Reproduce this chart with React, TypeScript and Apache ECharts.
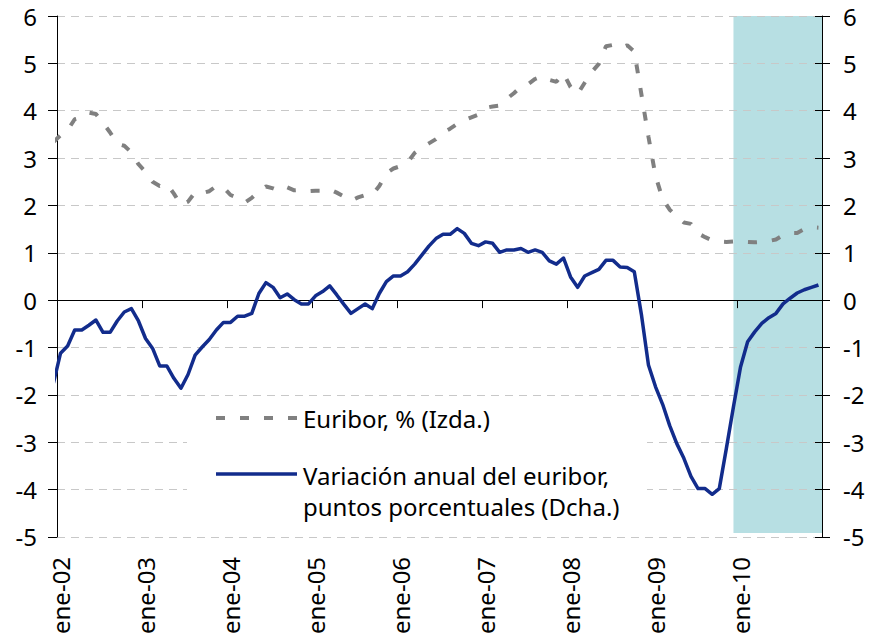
import React, { useEffect, useRef } from 'react';
import * as echarts from 'echarts';

// ---------- data ----------
const MONTHS = ['ene', 'feb', 'mar', 'abr', 'may', 'jun', 'jul', 'ago', 'sep', 'oct', 'nov', 'dic'];
const YEARS = ['02', '03', '04', '05', '06', '07', '08', '09', '10'];
// first entry (dic-01) lies just before the axis start and is clipped, as in the original
const monthLabels = ['dic-01', ...YEARS.flatMap((y) => MONTHS.map((m) => `${m}-${y}`))];
const axisCategories = monthLabels.slice(1);

// Euribor, % (Izda.)
const euribor = [
  3.34,
  3.48, 3.59, 3.82, 3.86, 3.96, 3.93, 3.74, 3.54, 3.30, 3.26, 3.12, 2.87,
  2.71, 2.50, 2.41, 2.45, 2.25, 2.01, 2.08, 2.28, 2.26, 2.30, 2.41, 2.38,
  2.22, 2.16, 2.06, 2.16, 2.30, 2.40, 2.36, 2.30, 2.38, 2.32, 2.33, 2.30,
  2.31, 2.31, 2.34, 2.27, 2.19, 2.10, 2.17, 2.22, 2.22, 2.41, 2.68, 2.78,
  2.83, 2.91, 3.11, 3.22, 3.31, 3.40, 3.54, 3.62, 3.72, 3.80, 3.86, 3.92,
  4.06, 4.09, 4.11, 4.25, 4.37, 4.51, 4.56, 4.67, 4.73, 4.65, 4.61, 4.79,
  4.50, 4.35, 4.59, 4.82, 4.99, 5.36, 5.39, 5.32, 5.38, 5.25, 4.35, 3.45,
  2.62, 2.14, 1.91, 1.77, 1.64, 1.61, 1.41, 1.33, 1.26, 1.24, 1.23, 1.24,
  1.23, 1.23, 1.22, 1.23, 1.25, 1.28, 1.37, 1.42, 1.42, 1.50, 1.54, 1.53,
];

// Variación anual del euribor, puntos porcentuales (Dcha.)
const variacion = [
  -1.75,
  -1.12, -0.97, -0.63, -0.63, -0.53, -0.42, -0.68, -0.68, -0.44, -0.25, -0.18, -0.44,
  -0.81, -1.02, -1.39, -1.39, -1.65, -1.86, -1.57, -1.16, -0.99, -0.83, -0.63, -0.47,
  -0.47, -0.34, -0.34, -0.28, 0.14, 0.37, 0.27, 0.05, 0.13, 0.01, -0.08, -0.08,
  0.09, 0.18, 0.30, 0.11, -0.09, -0.28, -0.18, -0.08, -0.18, 0.14, 0.39, 0.51,
  0.51, 0.60, 0.76, 0.95, 1.14, 1.30, 1.39, 1.39, 1.51, 1.41, 1.20, 1.15,
  1.23, 1.20, 1.01, 1.06, 1.06, 1.09, 1.01, 1.06, 1.01, 0.83, 0.76, 0.89,
  0.49, 0.27, 0.51, 0.58, 0.65, 0.84, 0.84, 0.70, 0.69, 0.60, -0.30, -1.37,
  -1.83, -2.20, -2.65, -3.03, -3.34, -3.72, -3.98, -3.98, -4.10, -3.98, -3.13, -2.25,
  -1.41, -0.88, -0.67, -0.49, -0.37, -0.28, -0.08, 0.04, 0.15, 0.22, 0.27, 0.32,
];

const SHADE_START = 'dic-09';
const SHADE_BOTTOM = -4.92;
const SHADE_TOP = 6;
const Y_MIN = -5;
const Y_MAX = 6;

const LEGEND_EURIBOR = 'Euribor, % (Izda.)';
const LEGEND_VAR_1 = 'Variación anual del euribor,';
const LEGEND_VAR_2 = 'puntos porcentuales (Dcha.)';

// ---------- styles ----------
const FONT = '"Noto Sans", "DejaVu Sans", sans-serif';
const FS = 24;
const BLUE = '#122C8C';
const GRAY = '#808080';
const SHADE = '#B7DFE3';
const GRID_COLOR = '#C8C8C8';

const toPos = (idx: number) => idx - 0.5; // month index -> position on the value axis

export default function App() {
  const ref = useRef<HTMLDivElement>(null);

  useEffect(() => {
    if (!ref.current) return;
    const chart = echarts.init(ref.current, undefined, { renderer: 'svg' });

    const euriborData = euribor.map((v, i) => [toPos(i), v]);
    const varData = variacion.map((v, i) => [toPos(i), v]);
    const shadeStart = toPos(monthLabels.indexOf(SHADE_START));

    const yBase = {
      type: 'value',
      min: Y_MIN,
      max: Y_MAX,
      interval: 1,
    };

    chart.setOption({
      animation: false,
      backgroundColor: '#ffffff',
      textStyle: { fontFamily: FONT },
      grid: { left: 57, top: 16, width: 765, height: 521 },
      xAxis: [
        {
          type: 'value',
          min: 0,
          max: 108,
          interval: 12,
          z: 4,
          axisLine: { show: true, onZero: true, onZeroAxisIndex: 0, lineStyle: { color: '#000', width: 1 } },
          axisTick: { show: true, length: 8, lineStyle: { color: '#000' } },
          axisLabel: { show: false },
          splitLine: { show: false },
        },
        {
          type: 'category',
          data: axisCategories,
          boundaryGap: true,
          position: 'bottom',
          axisLine: { show: false, onZero: false },
          axisTick: { show: false },
          splitLine: { show: false },
          axisLabel: {
            interval: 11,
            rotate: 90,
            margin: 20,
            padding: [6, 0, 0, 0],
            color: '#000',
            fontSize: FS,
            fontFamily: FONT,
          },
        },
      ],
      yAxis: [
        {
          ...yBase,
          position: 'left',
          z: 3,
          axisLine: { show: true, onZero: false, lineStyle: { color: '#000', width: 1 } },
          axisTick: { show: true, length: 9, lineStyle: { color: '#000' } },
          axisLabel: { margin: 20, color: '#000', fontSize: FS, fontFamily: FONT },
          splitLine: { show: true, lineStyle: { color: GRID_COLOR, width: 1, type: [8, 6] } },
        },
        {
          ...yBase,
          position: 'right',
          z: 4,
          axisLine: { show: true, onZero: false, lineStyle: { color: '#000', width: 1 } },
          axisTick: { show: true, length: 8, lineStyle: { color: '#000' } },
          axisLabel: { margin: 21, color: '#000', fontSize: FS, fontFamily: FONT },
          splitLine: { show: false },
        },
        {
          ...yBase,
          position: 'right',
          z: 4,
          axisLine: { show: false, onZero: false },
          axisTick: { show: true, inside: true, length: 7, lineStyle: { color: '#000' } },
          axisLabel: { show: false },
          splitLine: { show: false },
        },
      ],
      series: [
        {
          name: LEGEND_EURIBOR,
          type: 'line',
          xAxisIndex: 0,
          yAxisIndex: 0,
          data: euriborData,
          showSymbol: false,
          symbol: 'none',
          clip: true,
          z: 10,
          lineStyle: { color: GRAY, width: 4, type: [9, 15], cap: 'butt' },
        },
        {
          name: 'Variación anual del euribor, puntos porcentuales (Dcha.)',
          type: 'line',
          xAxisIndex: 0,
          yAxisIndex: 1,
          data: varData,
          showSymbol: false,
          symbol: 'none',
          clip: true,
          z: 11,
          lineStyle: { color: BLUE, width: 3.5, join: 'round' },
          markArea: {
            silent: true,
            z: 1,
            itemStyle: { color: SHADE, opacity: 1 },
            data: [[{ xAxis: shadeStart, yAxis: SHADE_BOTTOM }, { yAxis: SHADE_TOP }]],
          },
        },
      ],
      graphic: [
        { type: 'rect', z: 5, silent: true, shape: { x: 187, y: 400, width: 460, height: 128 }, style: { fill: '#ffffff' } },
        { type: 'line', z: 12, silent: true, shape: { x1: 216, y1: 418, x2: 297, y2: 418 }, style: { stroke: GRAY, lineWidth: 4, lineDash: [9, 15] } },
        { type: 'text', z: 12, silent: true, x: 303, y: 418, style: { text: LEGEND_EURIBOR, fill: '#000', font: `${FS}px ${FONT}`, align: 'left', verticalAlign: 'middle', textAlign: 'left', textVerticalAlign: 'middle' } },
        { type: 'line', z: 12, silent: true, shape: { x1: 216, y1: 474, x2: 297, y2: 474 }, style: { stroke: BLUE, lineWidth: 3.5 } },
        { type: 'text', z: 12, silent: true, x: 303, y: 475, style: { text: LEGEND_VAR_1, fill: '#000', font: `${FS}px ${FONT}`, align: 'left', verticalAlign: 'middle', textAlign: 'left', textVerticalAlign: 'middle' } },
        { type: 'text', z: 12, silent: true, x: 303, y: 506, style: { text: LEGEND_VAR_2, fill: '#000', font: `${FS}px ${FONT}`, align: 'left', verticalAlign: 'middle', textAlign: 'left', textVerticalAlign: 'middle' } },
      ],
    });

    return () => chart.dispose();
  }, []);

  return (
    <div
      ref={ref}
      style={{ position: 'fixed', left: 0, top: 0, width: 874, height: 637, background: '#fff' }}
    />
  );
}
